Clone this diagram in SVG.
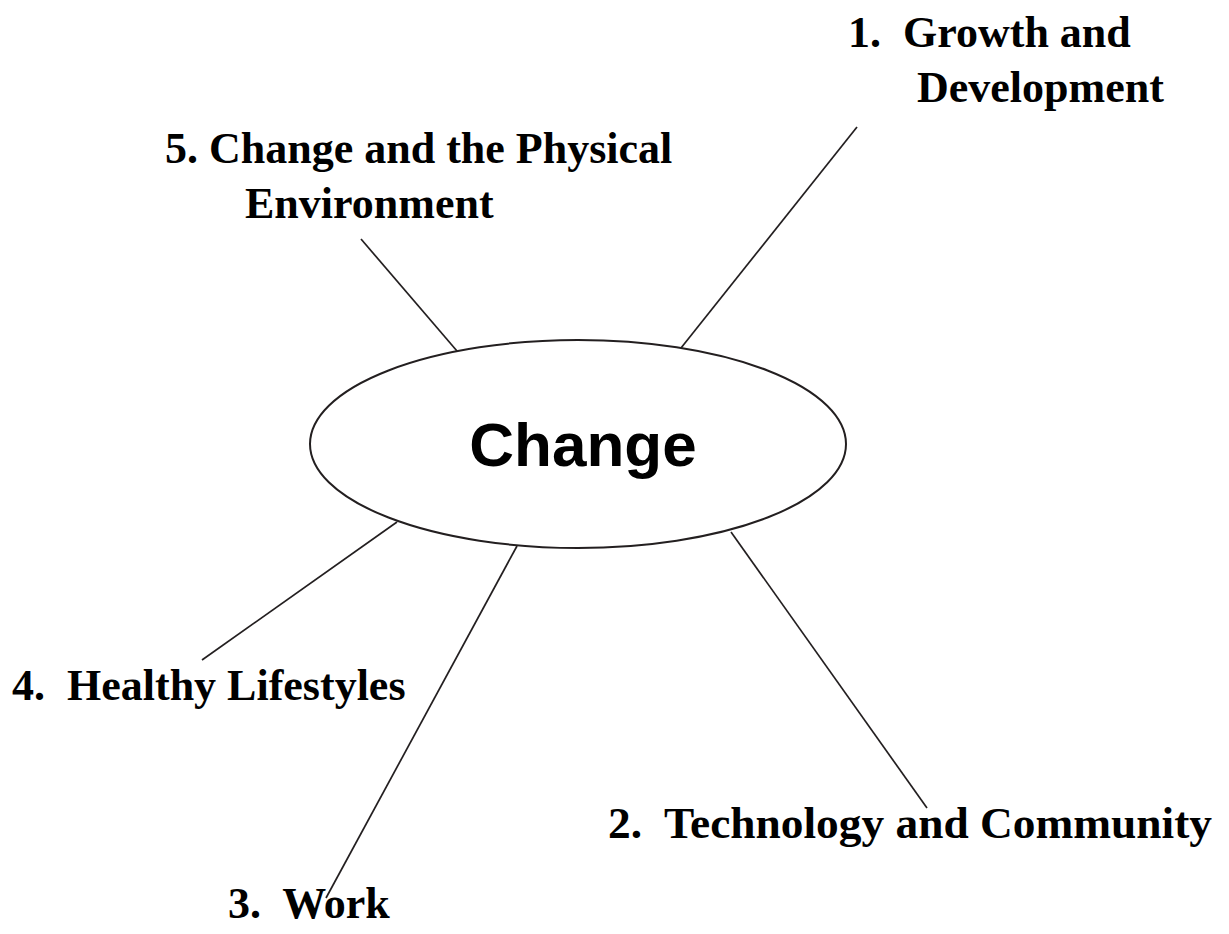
<svg xmlns="http://www.w3.org/2000/svg" width="1229" height="934" viewBox="0 0 1229 934">
<style>
.lbl{font-family:"Liberation Serif","Times New Roman",serif;font-weight:bold;font-size:44px;fill:#000}
.conn line{stroke:#231f20;stroke-width:1.7;fill:none}
</style>
<rect width="1229" height="934" fill="#fff"/>
<g id="connectors" class="conn">
<line x1="681" y1="348" x2="857" y2="127"/>
<line x1="457" y1="351" x2="361" y2="239"/>
<line x1="397" y1="522" x2="202" y2="660"/>
<line x1="517" y1="546" x2="326" y2="898"/>
<line x1="731" y1="532" x2="927" y2="808"/>
</g>
<g id="center">
<ellipse cx="578" cy="444" rx="268" ry="104" fill="#fff" stroke="#231f20" stroke-width="2"/>
<text x="583" y="466" text-anchor="middle" font-family="Liberation Sans, Arial, sans-serif" font-weight="bold" font-size="62">Change</text>
</g>
<g id="node1">
<text class="lbl" x="848" y="47">1.&#160; Growth and</text>
<text class="lbl" x="917" y="102">Development</text>
</g>
<g id="node2">
<text class="lbl" x="608" y="838" textLength="604" lengthAdjust="spacingAndGlyphs">2.&#160; Technology and Community</text>
</g>
<g id="node3">
<text class="lbl" x="228" y="918">3.&#160; Work</text>
</g>
<g id="node4">
<text class="lbl" x="12" y="700">4.&#160; Healthy Lifestyles</text>
</g>
<g id="node5">
<text class="lbl" x="165" y="163">5. Change and the Physical</text>
<text class="lbl" x="245" y="218">Environment</text>
</g>
</svg>
